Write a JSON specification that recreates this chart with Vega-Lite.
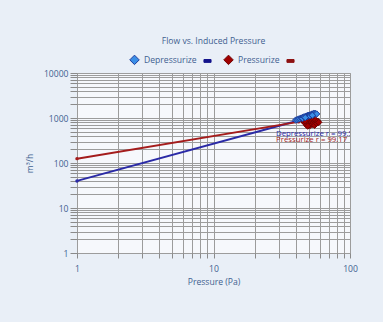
{
  "$schema": "https://vega.github.io/schema/vega-lite/v6.json",
  "autosize": {"type": "none"},
  "width": 273,
  "height": 180,
  "padding": {"left": 77, "top": 73, "right": 33, "bottom": 69},
  "background": "#e9eff7",
  "title": {"text": "Flow vs. Induced Pressure", "fontSize": 8.6, "fontWeight": "normal", "color": "#3f5f90", "font": "Open Sans", "anchor": "middle", "offset": 8},
  "config": {
    "font": "Open Sans",
    "view": {"fill": "#f6f8fc", "stroke": "#9a9a9a"}
  },
  "datasets": {
    "lines": [
      {"s": "Depressurize", "x": 1, "y": 40},
      {"s": "Depressurize", "x": 42, "y": 880},
      {"s": "Pressurize", "x": 1, "y": 125},
      {"s": "Pressurize", "x": 42, "y": 820}
    ],
    "points": [
      {"s": "Pressurize", "x": 45, "y": 880}, {"s": "Pressurize", "x": 46, "y": 820}, {"s": "Pressurize", "x": 46, "y": 950},
      {"s": "Pressurize", "x": 47, "y": 760}, {"s": "Pressurize", "x": 48, "y": 900}, {"s": "Pressurize", "x": 48, "y": 700},
      {"s": "Pressurize", "x": 49, "y": 840}, {"s": "Pressurize", "x": 50, "y": 980}, {"s": "Pressurize", "x": 50, "y": 760},
      {"s": "Pressurize", "x": 51, "y": 680}, {"s": "Pressurize", "x": 51, "y": 880}, {"s": "Pressurize", "x": 52, "y": 820},
      {"s": "Pressurize", "x": 52, "y": 950}, {"s": "Pressurize", "x": 53, "y": 720}, {"s": "Pressurize", "x": 53, "y": 870},
      {"s": "Pressurize", "x": 54, "y": 780}, {"s": "Pressurize", "x": 54, "y": 920}, {"s": "Pressurize", "x": 55, "y": 850},
      {"s": "Pressurize", "x": 55, "y": 690}, {"s": "Pressurize", "x": 56, "y": 800}, {"s": "Pressurize", "x": 56, "y": 900},
      {"s": "Pressurize", "x": 57, "y": 760}, {"s": "Pressurize", "x": 58, "y": 850}, {"s": "Pressurize", "x": 59, "y": 800},
      {"s": "Pressurize", "x": 49, "y": 660}, {"s": "Pressurize", "x": 47, "y": 860},
      {"s": "Depressurize", "x": 40, "y": 900}, {"s": "Depressurize", "x": 41, "y": 920}, {"s": "Depressurize", "x": 42, "y": 950},
      {"s": "Depressurize", "x": 43, "y": 970}, {"s": "Depressurize", "x": 44, "y": 1000}, {"s": "Depressurize", "x": 45, "y": 1030},
      {"s": "Depressurize", "x": 45, "y": 980}, {"s": "Depressurize", "x": 46, "y": 1060}, {"s": "Depressurize", "x": 47, "y": 1080},
      {"s": "Depressurize", "x": 48, "y": 1100}, {"s": "Depressurize", "x": 49, "y": 1080}, {"s": "Depressurize", "x": 49, "y": 1140},
      {"s": "Depressurize", "x": 50, "y": 1150}, {"s": "Depressurize", "x": 51, "y": 1170}, {"s": "Depressurize", "x": 51, "y": 1110},
      {"s": "Depressurize", "x": 52, "y": 1200}, {"s": "Depressurize", "x": 53, "y": 1230}, {"s": "Depressurize", "x": 54, "y": 1250},
      {"s": "Depressurize", "x": 54, "y": 1180}, {"s": "Depressurize", "x": 55, "y": 1280}, {"s": "Depressurize", "x": 56, "y": 1240},
      {"s": "Depressurize", "x": 57, "y": 1230}, {"s": "Depressurize", "x": 53, "y": 1150}, {"s": "Depressurize", "x": 47, "y": 1020}
    ],
    "labels": [
      {"s": "Depressurize", "label": "Depressurize r = 99.52", "x": 28.7, "y": 440},
      {"s": "Pressurize", "label": "Pressurize r = 99.17", "x": 28.7, "y": 332}
    ]
  },
  "encoding": {
    "x": {
      "field": "x", "type": "quantitative",
      "scale": {"type": "log", "domain": [1, 100]},
      "axis": {
        "values": [1,2,3,4,5,6,7,8,9,10,20,30,40,50,60,70,80,90,100],
        "format": "d",
        "labelExpr": "test(regexp('^10*$'), datum.label) ? datum.label : ''",
        "grid": true, "gridColor": "#9c9c9c", "gridOpacity": 1,
        "domain": false, "tickColor": "#8a8a8a", "tickSize": 5,
        "labelColor": "#3f5f90", "labelFontSize": 8.6, "labelPadding": 6, "labelFlush": false,
        "title": "Pressure (Pa)", "titleColor": "#3f5f90", "titleFontSize": 8.6, "titleFontWeight": "normal", "titlePadding": 5
      }
    },
    "y": {
      "field": "y", "type": "quantitative",
      "scale": {"type": "log", "domain": [1, 10000]},
      "axis": {
        "values": [1,2,3,4,5,6,7,8,9,10,20,30,40,50,60,70,80,90,100,200,300,400,500,600,700,800,900,1000,2000,3000,4000,5000,6000,7000,8000,9000,10000],
        "format": "d",
        "labelExpr": "test(regexp('^10*$'), datum.label) ? datum.label : ''",
        "grid": true, "gridColor": "#9c9c9c", "gridOpacity": 1,
        "domain": false, "tickColor": "#8a8a8a", "tickSize": 7,
        "labelColor": "#3f5f90", "labelFontSize": 8.6, "labelPadding": 2, "labelFlush": false,
        "title": "m³/h", "titleColor": "#3f5f90", "titleFontSize": 8.6, "titleFontWeight": "normal", "titlePadding": 9
      }
    }
  },
  "layer": [
    {
      "data": {"name": "lines"},
      "mark": {"type": "line", "strokeWidth": 2, "point": {"size": 12, "filled": true}},
      "encoding": {
        "color": {"field": "s", "type": "nominal", "scale": {"domain": ["Depressurize", "Pressurize"], "range": ["#2a2aa6", "#a41c1c"]}, "legend": null}
      }
    },
    {
      "data": {"name": "points"},
      "mark": {"type": "point", "filled": true, "size": 40, "strokeWidth": 1, "opacity": 1},
      "encoding": {
        "fill": {"field": "s", "type": "nominal",
          "scale": {"domain": ["Depressurize", "Depressurize line", "Pressurize", "Pressurize line"], "range": ["#3a8ee6", "#14148c", "#a00000", "#8e1212"]},
          "legend": {"title": null, "orient": "none", "legendX": 52, "legendY": -19, "direction": "horizontal", "symbolSize": 90, "labelFontSize": 8.6, "labelColor": "#3f5f90", "columnPadding": 4, "labelOffset": 4, "symbolStrokeWidth": 1, "labelExpr": "indexof(datum.label, 'line') >= 0 ? '' : datum.label"}},
        "stroke": {"field": "s", "type": "nominal",
          "scale": {"domain": ["Depressurize", "Depressurize line", "Pressurize", "Pressurize line"], "range": ["#1c3c9c", "#14148c", "#700000", "#8e1212"]},
          "legend": {"title": null, "orient": "none", "legendX": 52, "legendY": -19, "direction": "horizontal", "symbolSize": 90, "labelFontSize": 8.6, "labelColor": "#3f5f90", "columnPadding": 4, "labelOffset": 4, "symbolStrokeWidth": 1, "labelExpr": "indexof(datum.label, 'line') >= 0 ? '' : datum.label"}},
        "shape": {"field": "s", "type": "nominal",
          "scale": {"domain": ["Depressurize", "Depressurize line", "Pressurize", "Pressurize line"], "range": ["diamond", "M-0.75,-0.3H0.75V0.3H-0.75Z", "diamond", "M-0.75,-0.3H0.75V0.3H-0.75Z"]},
          "legend": {"title": null, "orient": "none", "legendX": 52, "legendY": -19, "direction": "horizontal", "symbolSize": 90, "labelFontSize": 8.6, "labelColor": "#3f5f90", "columnPadding": 4, "labelOffset": 4, "symbolStrokeWidth": 1, "labelExpr": "indexof(datum.label, 'line') >= 0 ? '' : datum.label"}}
      }
    },
    {
      "data": {"name": "labels"},
      "mark": {"type": "text", "align": "left", "baseline": "middle", "fontSize": 7.8, "clip": true},
      "encoding": {
        "text": {"field": "label"},
        "color": {"field": "s", "type": "nominal", "legend": null}
      }
    }
  ]
}
